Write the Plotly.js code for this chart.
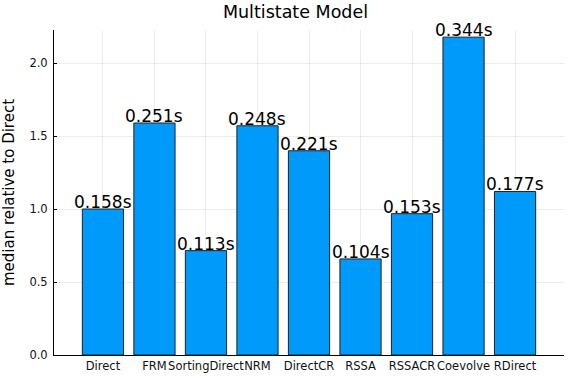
<!DOCTYPE html>
<html>
<head>
<meta charset="utf-8">
<script src="https://cdn.plot.ly/plotly-3.0.1.min.js"></script>
<style>html,body{margin:0;padding:0;background:#fff;}#chart{width:576px;height:384px;}</style>
</head>
<body>
<div id="chart"></div>
<script>
const categories = ["Direct", "FRM", "SortingDirect", "NRM", "DirectCR", "RSSA", "RSSACR", "Coevolve", "RDirect"];
const medianSeconds = [0.158, 0.251, 0.113, 0.248, 0.221, 0.104, 0.153, 0.344, 0.177];
const labels = ["0.158s", "0.251s", "0.113s", "0.248s", "0.221s", "0.104s", "0.153s", "0.344s", "0.177s"];
const relative = [1.0, 1.589, 0.715, 1.570, 1.399, 0.658, 0.968, 2.177, 1.120];

const font = "DejaVu Sans, sans-serif";
const trace = {
  type: "bar",
  x: categories,
  y: relative,
  width: 0.8,
  marker: {color: "#009AFA", line: {color: "#222222", width: 1}},
  hoverinfo: "none"
};
const annotations = categories.map((c, i) => ({
  x: c, y: relative[i], text: labels[i], showarrow: false,
  xanchor: "center", yanchor: "bottom", yshift: -5,
  font: {family: font, size: 17, color: "#000"}
}));
const layout = {
  width: 576, height: 384,
  margin: {l: 54, r: 12, t: 30, b: 29},
  paper_bgcolor: "#fff", plot_bgcolor: "#fff",
  showlegend: false,
  title: {text: "Multistate Model", x: 0.513, xanchor: "center", y: 0.985, yanchor: "top",
          font: {family: font, size: 17.5, color: "#000"}},
  xaxis: {
    type: "category", range: [-0.95, 8.95],
    showgrid: true, gridcolor: "rgba(0,0,0,0.07)", gridwidth: 1,
    showline: true, linecolor: "#000", linewidth: 1, mirror: false,
    ticks: "outside", ticklen: 0, tickcolor: "#000", tickangle: 0,
    tickfont: {family: font, size: 11.5, color: "#111"}, zeroline: false
  },
  yaxis: {
    range: [0, 2.226], tickvals: [0, 0.5, 1.0, 1.5, 2.0], tickformat: ".1f",
    showgrid: true, gridcolor: "rgba(0,0,0,0.07)", gridwidth: 1,
    showline: true, linecolor: "#000", linewidth: 1,
    ticks: "inside", ticklen: 3, tickcolor: "#000", zeroline: false,
    ticklabelstandoff: 3,
    tickfont: {family: font, size: 11.5, color: "#111"},
    title: {text: "median relative to Direct", font: {family: font, size: 15, color: "#000"}, standoff: 11}
  },
  annotations: annotations,
  bargap: 0.2
};
Plotly.newPlot("chart", [trace], layout, {displayModeBar: false, staticPlot: true});
</script>
</body>
</html>
